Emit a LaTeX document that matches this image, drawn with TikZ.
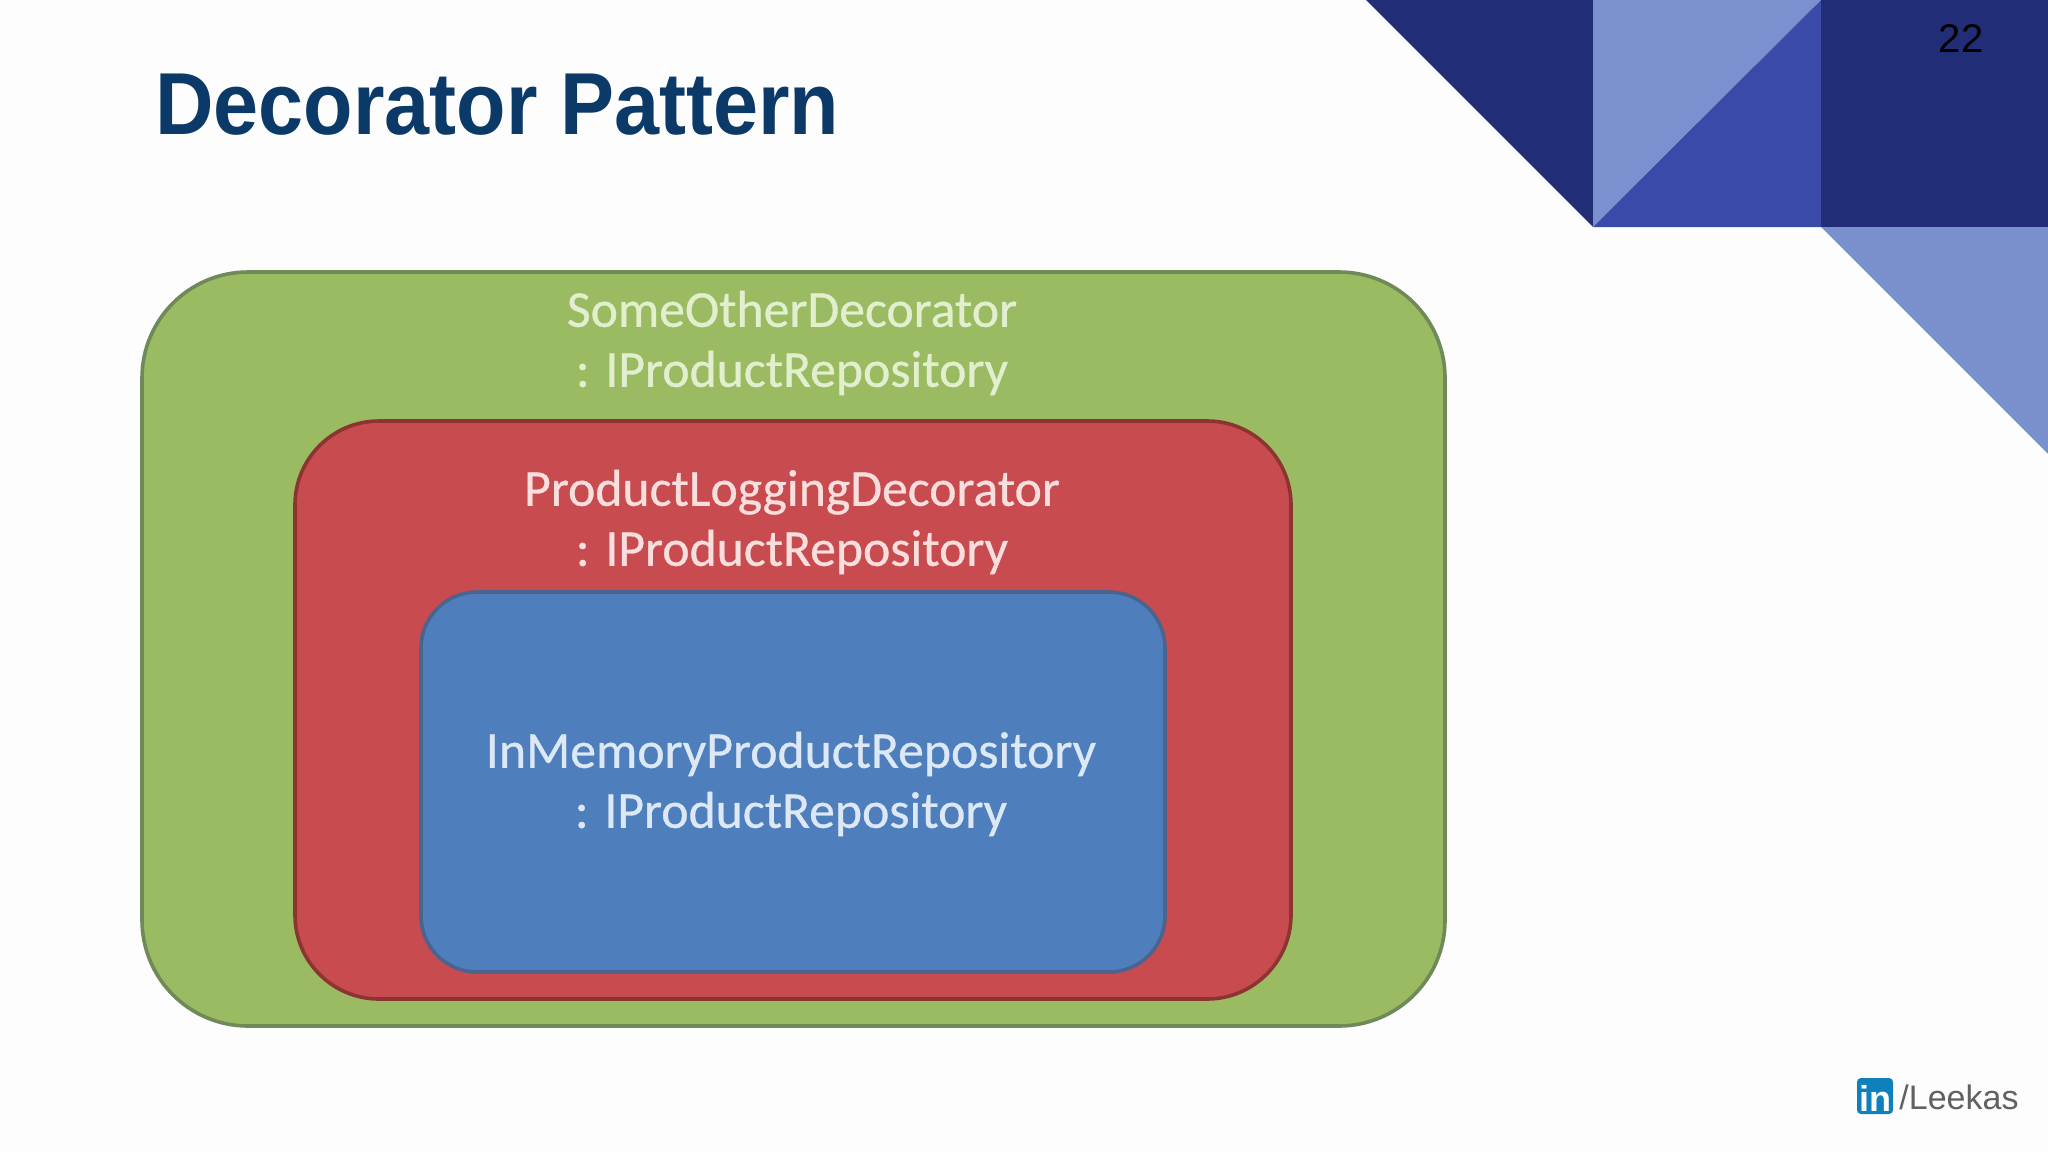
\documentclass[tikz,border=0pt]{standalone}
\usepackage{fontspec}
\setmainfont{Liberation Sans}
\newfontfamily\bodyfont[FakeBold=0.6]{Carlito}
\newfontfamily\titlefont[FakeStretch=0.92]{Liberation Sans}
\definecolor{navy}{HTML}{222D77}
\definecolor{midblue}{HTML}{3A4AA8}
\definecolor{lightblue}{HTML}{7B90CE}
\definecolor{lowerblue}{HTML}{7890CB}
\definecolor{titleblue}{HTML}{0B3A68}
\definecolor{greenfill}{HTML}{9BBB63}
\definecolor{greenedge}{HTML}{6F8A58}
\definecolor{redfill}{HTML}{C84B50}
\definecolor{rededge}{HTML}{8C3431}
\definecolor{bluefill}{HTML}{4E7FBC}
\definecolor{blueedge}{HTML}{4A648E}
\definecolor{linkblue}{HTML}{0E81BD}
\definecolor{greentext}{HTML}{E2EFCF}
\definecolor{redtext}{HTML}{F8DEDC}
\definecolor{bluetext}{HTML}{DCE8F5}
\tikzset{
  x=0.5pt,y=-0.5pt,
  panel/.style={draw,line width=1.8pt,inner sep=0pt,outer sep=0pt,anchor=north west},
  boxlabel/.style={font=\bodyfont\fontsize{25.85}{30}\selectfont,align=center,inner sep=0pt,anchor=center}
}
\begin{document}
\begin{tikzpicture}
\useasboundingbox (0,0) rectangle (2048,1152);
\fill[white!99.3!black] (0,0) rectangle (2048,1152);
% corner decoration
\fill[navy] (1366,0) -- (1593,0) -- (1593,227) -- cycle;
\fill[lightblue] (1593,0) -- (1821,0) -- (1593,227) -- cycle;
\fill[midblue] (1821,0) -- (1821,227) -- (1593,227) -- cycle;
\fill[navy] (1821,0) rectangle (2048,227);
\fill[lowerblue] (1821,227) -- (2048,227) -- (2048,454) -- cycle;
\node[inner sep=0pt,font=\fontsize{20}{24}\selectfont,text=black] (pageno) at (1961,39) {22};
% title
\node[inner sep=0pt,anchor=west,font=\titlefont\bfseries\fontsize{44}{50}\selectfont,text=titleblue] (title) at (155,105) {Decorator Pattern};
% nested boxes
\node[panel,fill=greenfill,draw=greenedge,rounded corners=53pt,minimum width=651.5pt,minimum height=377pt] (outer) at (142,272) {};
\node[panel,fill=redfill,draw=rededge,rounded corners=42pt,minimum width=498pt,minimum height=289pt] (middle) at (295,421) {};
\node[panel,fill=bluefill,draw=blueedge,rounded corners=28pt,minimum width=372pt,minimum height=190pt] (inner) at (421,592) {};
% labels
\node[boxlabel,text=greentext] (l1) at (792,343) {SomeOtherDecorator\\: IProductRepository};
\node[boxlabel,text=redtext] (l2) at (792,522) {ProductLoggingDecorator\\: IProductRepository};
\node[boxlabel,text=bluetext] (l3) at (791,784) {InMemoryProductRepository\\: IProductRepository};
% footer logo
\node[fill=linkblue,rounded corners=2pt,minimum width=18pt,minimum height=18pt,inner sep=0pt] (logo) at (1875,1096) {};
\node[inner sep=0pt,font=\bfseries\fontsize{18}{20}\selectfont,text=white] (logoin) at (1875,1098) {in};
\node[inner sep=0pt,anchor=west,font=\fontsize{17}{20}\selectfont,text=black!62] (handle) at (1899,1097) {/Leekas};
\end{tikzpicture}
\end{document}
